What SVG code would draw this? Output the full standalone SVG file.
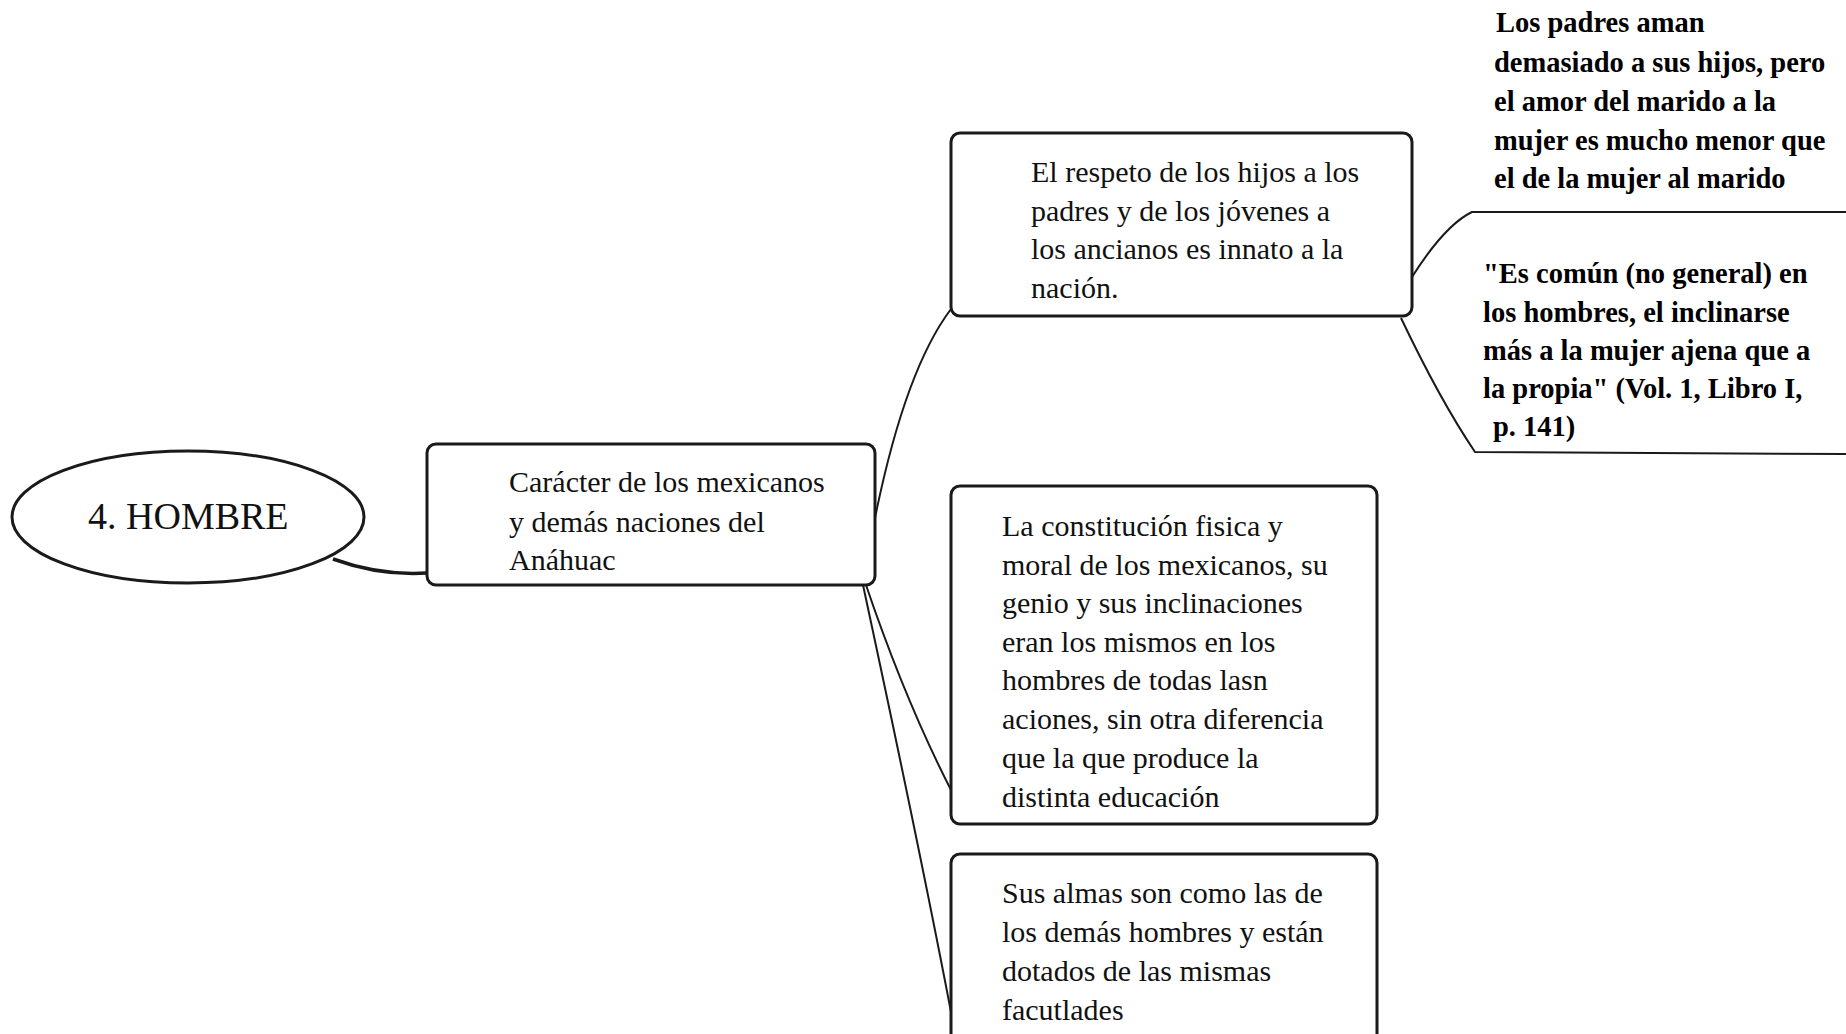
<svg xmlns="http://www.w3.org/2000/svg" width="1846" height="1034" viewBox="0 0 1846 1034">
<style>
.box{fill:#fff;stroke:#1a1a1a;stroke-width:3}
.t{font-family:"Liberation Serif","Times New Roman",serif;font-size:30px;fill:#111}
.b{font-family:"Liberation Serif","Times New Roman",serif;font-size:28.5px;font-weight:bold;fill:#000}
.c{fill:none;stroke:#1a1a1a;stroke-width:2}
</style>
<rect width="1846" height="1034" fill="#fff"/>
<g id="connectors">
<path class="c" d="M333,559 Q380,576 427,573" style="stroke-width:3.5"/>
<path class="c" d="M875,518 Q905,370 951,309"/>
<path class="c" d="M866,585 Q905,700 951,790"/>
<path class="c" d="M863,585 Q920,850 951,1012"/>
<path class="c" d="M1412,277 Q1445,225 1472,212 L1846,212"/>
<path class="c" d="M1401,318 Q1440,400 1475,452 L1846,454"/>
</g>
<g id="n-hombre">
<ellipse class="box" cx="188" cy="517" rx="176" ry="66"/>
<text class="t" x="88" y="529" style="font-size:38px">4. HOMBRE</text>
</g>
<g id="n-caracter">
<rect class="box" x="427" y="444" width="448" height="141" rx="9"/>
<text class="t"><tspan x="509" y="492">Carácter de los mexicanos</tspan><tspan x="509" y="532">y demás naciones del</tspan><tspan x="509" y="570">Anáhuac</tspan></text>
</g>
<g id="n-respeto">
<rect class="box" x="951" y="133" width="461" height="183" rx="9"/>
<text class="t"><tspan x="1031" y="182">El respeto de los hijos a los</tspan><tspan x="1031" y="221">padres y de los jóvenes a</tspan><tspan x="1031" y="259">los ancianos es innato a la</tspan><tspan x="1031" y="298">nación.</tspan></text>
</g>
<g id="n-constitucion">
<rect class="box" x="951" y="486" width="426" height="338" rx="9"/>
<text class="t"><tspan x="1002" y="536">La constitución fisica y</tspan><tspan x="1002" y="575">moral de los mexicanos, su</tspan><tspan x="1002" y="613">genio y sus inclinaciones</tspan><tspan x="1002" y="652">eran los mismos en los</tspan><tspan x="1002" y="690">hombres de todas lasn</tspan><tspan x="1002" y="729">aciones, sin otra diferencia</tspan><tspan x="1002" y="768">que la que produce la</tspan><tspan x="1002" y="807">distinta educación</tspan></text>
</g>
<g id="n-almas">
<rect class="box" x="951" y="854" width="426" height="200" rx="9"/>
<text class="t"><tspan x="1002" y="903">Sus almas son como las de</tspan><tspan x="1002" y="942">los demás hombres y están</tspan><tspan x="1002" y="981">dotados de las mismas</tspan><tspan x="1002" y="1020">facutlades</tspan></text>
</g>
<g id="n-padres">
<text class="b"><tspan x="1496" y="32">Los padres aman</tspan><tspan x="1494" y="72">demasiado a sus hijos, pero</tspan><tspan x="1494" y="111">el amor del marido a la</tspan><tspan x="1494" y="150">mujer es mucho menor que</tspan><tspan x="1494" y="188">el de la mujer al marido</tspan></text>
</g>
<g id="n-comun">
<text class="b"><tspan x="1483" y="283">"Es común (no general) en</tspan><tspan x="1483" y="322">los hombres, el inclinarse</tspan><tspan x="1483" y="360">más a la mujer ajena que a</tspan><tspan x="1483" y="398">la propia" (Vol. 1, Libro I,</tspan><tspan x="1493" y="436">p. 141)</tspan></text>
</g>
</svg>
